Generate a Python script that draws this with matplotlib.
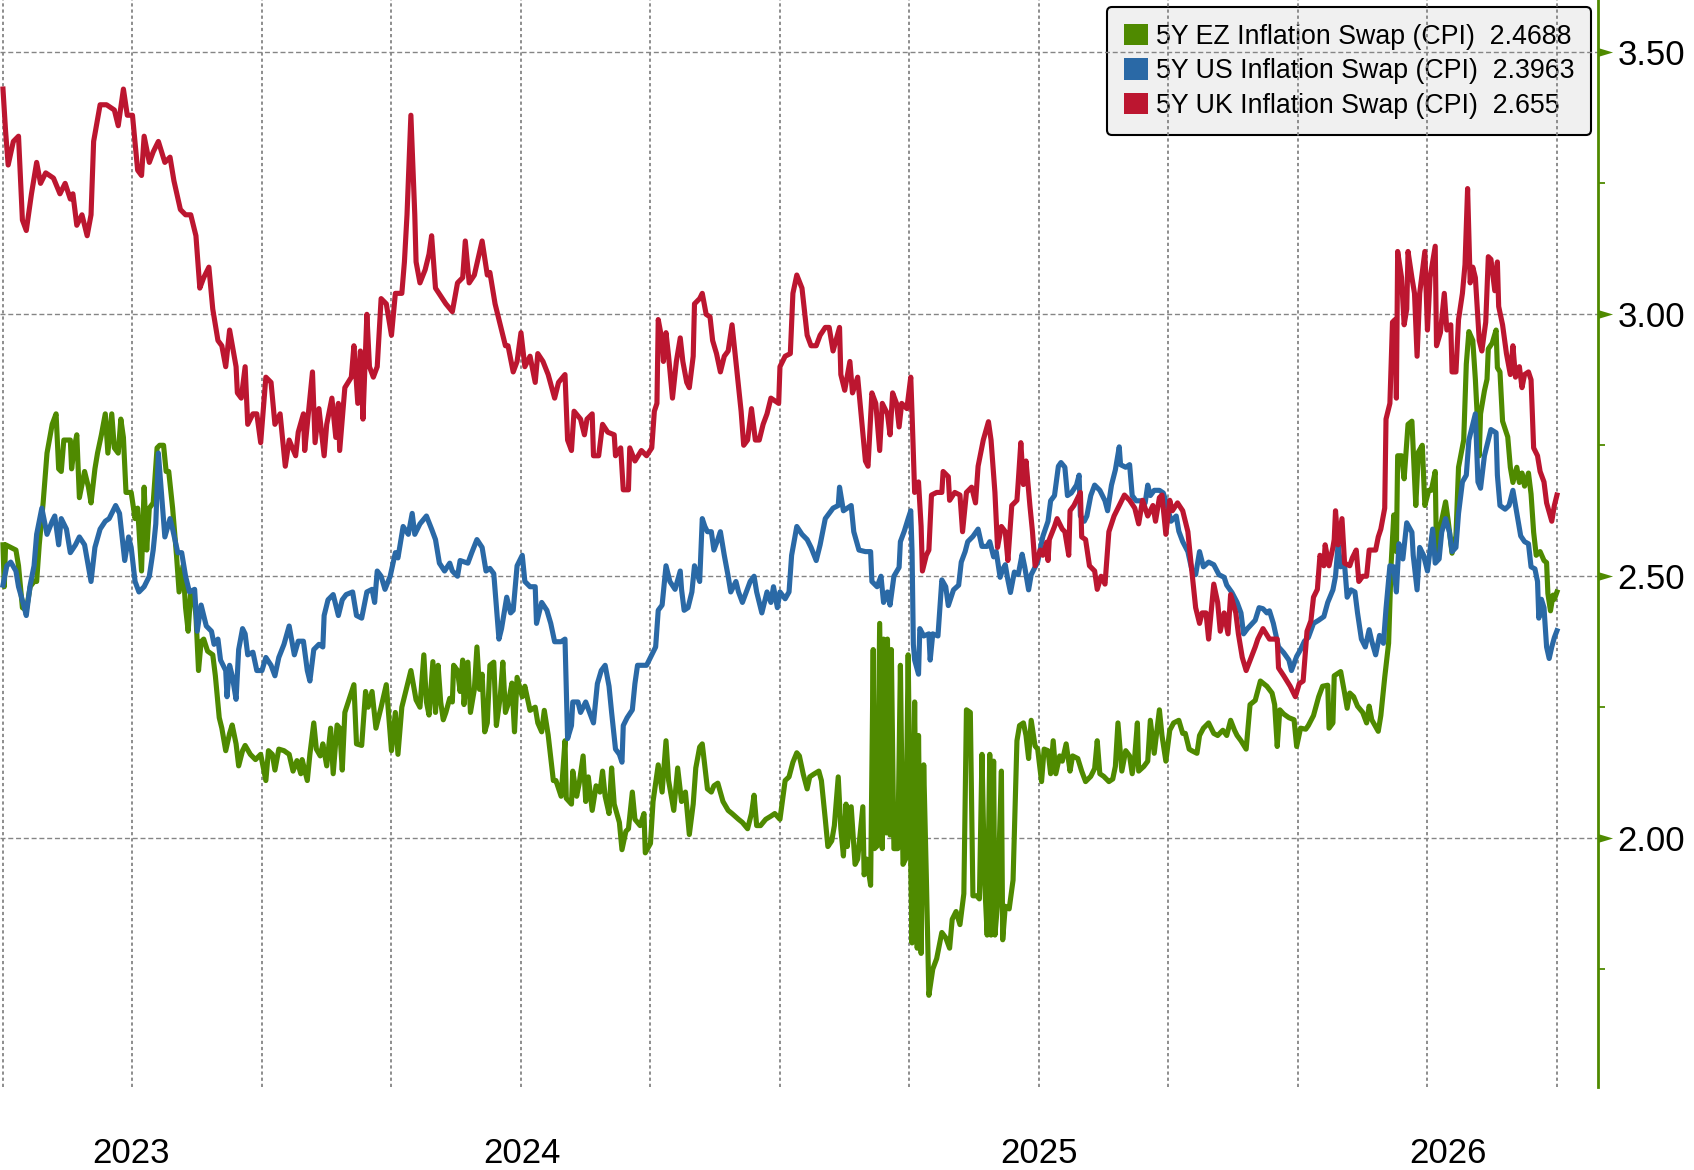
import numpy as np
import matplotlib
matplotlib.use("Agg")
import matplotlib.pyplot as plt
from matplotlib.patches import Patch
from matplotlib.path import Path

plt.rcParams['font.family'] = ['Liberation Sans', 'DejaVu Sans']

# ---------------- data (t in quarter units from first grid line, value in %) ----------------
ez_points = [
(0.00,2.56),(0.01,2.48),(0.02,2.56),(0.06,2.555),(0.10,2.55),(0.12,2.52),(0.15,2.44),(0.18,2.435),(0.21,2.48),(0.24,2.49),
(0.26,2.49),(0.28,2.56),(0.31,2.64),(0.34,2.735),(0.38,2.79),(0.41,2.81),(0.43,2.705),(0.45,2.70),(0.47,2.76),(0.49,2.76),
(0.52,2.76),(0.53,2.705),(0.55,2.745),(0.57,2.77),(0.59,2.65),(0.63,2.70),(0.66,2.67),(0.68,2.64),(0.71,2.705),(0.73,2.735),
(0.76,2.77),(0.79,2.81),(0.81,2.735),(0.84,2.81),(0.86,2.745),(0.89,2.735),(0.91,2.80),(0.93,2.765),(0.95,2.66),(0.99,2.66),
(1.02,2.61),(1.04,2.63),(1.07,2.51),(1.09,2.67),(1.11,2.55),(1.13,2.63),(1.16,2.64),(1.19,2.745),(1.21,2.75),(1.24,2.75),
(1.26,2.70),(1.28,2.70),(1.31,2.63),(1.34,2.54),(1.36,2.47),(1.39,2.52),(1.41,2.44),(1.43,2.395),(1.45,2.47),(1.47,2.47),
(1.49,2.425),(1.51,2.32),(1.53,2.375),(1.55,2.38),(1.58,2.357),(1.62,2.35),(1.64,2.31),(1.67,2.23),(1.69,2.21),(1.72,2.167),
(1.75,2.20),(1.77,2.216),(1.80,2.18),(1.82,2.138),(1.85,2.167),(1.87,2.177),(1.91,2.16),(1.95,2.15),(1.99,2.16),(2.03,2.11),
(2.05,2.167),(2.08,2.16),(2.10,2.13),(2.13,2.17),(2.17,2.167),(2.21,2.16),(2.24,2.128),(2.27,2.148),(2.30,2.123),(2.31,2.15),
(2.35,2.11),(2.37,2.16),(2.40,2.22),(2.42,2.17),(2.45,2.157),(2.47,2.18),(2.50,2.138),(2.53,2.21),(2.55,2.123),(2.58,2.216),
(2.60,2.21),(2.62,2.13),(2.64,2.24),(2.68,2.27),(2.71,2.293),(2.73,2.18),(2.77,2.177),(2.80,2.28),(2.82,2.25),(2.85,2.28),
(2.88,2.21),(2.92,2.25),(2.96,2.293),(3.00,2.167),(3.03,2.24),(3.05,2.16),(3.08,2.25),(3.12,2.29),(3.15,2.32),(3.19,2.264),
(3.22,2.25),(3.25,2.35),(3.27,2.26),(3.29,2.235),(3.32,2.337),(3.34,2.24),(3.36,2.33),(3.38,2.26),(3.40,2.226),(3.42,2.24),
(3.45,2.267),(3.47,2.26),(3.48,2.33),(3.51,2.32),(3.53,2.28),(3.55,2.34),(3.56,2.255),(3.59,2.336),(3.61,2.24),(3.64,2.284),
(3.66,2.365),(3.68,2.284),(3.70,2.313),(3.72,2.203),(3.74,2.22),(3.76,2.33),(3.79,2.336),(3.81,2.215),(3.84,2.27),(3.86,2.336),
(3.88,2.24),(3.90,2.255),(3.93,2.296),(3.95,2.203),(3.97,2.307),(4.01,2.27),(4.03,2.29),(4.07,2.244),(4.11,2.25),(4.13,2.22),
(4.16,2.203),(4.18,2.244),(4.21,2.197),(4.25,2.11),(4.27,2.11),(4.31,2.08),(4.34,2.186),(4.35,2.076),(4.39,2.065),(4.40,2.128),
(4.43,2.08),(4.45,2.105),(4.48,2.157),(4.50,2.07),(4.52,2.117),(4.55,2.053),(4.58,2.10),(4.61,2.088),(4.63,2.128),(4.65,2.08),
(4.68,2.047),(4.70,2.134),(4.72,2.065),(4.76,2.03),(4.78,1.978),(4.81,2.013),(4.83,2.018),(4.86,2.088),(4.88,2.036),(4.92,2.024),
(4.95,2.047),(4.96,1.972),(5.00,1.99),(5.02,2.07),(5.06,2.14),(5.09,2.088),(5.12,2.186),(5.14,2.11),(5.18,2.053),(5.21,2.134),
(5.24,2.07),(5.27,2.088),(5.30,2.007),(5.33,2.065),(5.35,2.134),(5.38,2.174),(5.40,2.18),(5.44,2.094),(5.47,2.088),(5.49,2.10),
(5.52,2.105),(5.56,2.07),(5.60,2.053),(5.63,2.047),(5.68,2.036),(5.71,2.03),(5.75,2.018),(5.78,2.047),(5.80,2.082),(5.82,2.024),
(5.85,2.024),(5.89,2.036),(5.93,2.042),(5.96,2.047),(6.00,2.036),(6.04,2.11),(6.07,2.117),(6.10,2.145),(6.13,2.163),(6.15,2.157),
(6.18,2.122),(6.21,2.094),(6.23,2.117),(6.26,2.122),(6.30,2.128),(6.32,2.11),(6.35,2.036),(6.37,1.984),(6.40,1.995),(6.42,2.024),
(6.45,2.117),(6.47,2.018),(6.49,1.966),(6.51,2.065),(6.52,1.984),(6.55,2.06),(6.58,1.95),(6.60,1.96),(6.64,2.06),(6.65,1.93),
(6.67,1.96),(6.70,1.91),(6.72,2.36),(6.73,1.98),(6.75,1.985),(6.77,2.41),(6.79,1.98),(6.80,2.38),(6.82,2.01),(6.83,2.38),
(6.85,2.006),(6.86,2.36),(6.88,1.98),(6.91,1.98),(6.93,2.33),(6.95,1.95),(6.97,1.96),(6.99,2.35),(7.01,1.95),(7.02,1.80),
(7.04,2.26),(7.06,1.79),(7.07,2.196),(7.09,1.78),(7.11,2.14),(7.13,1.93),(7.15,1.70),(7.18,1.75),(7.21,1.77),(7.25,1.82),
(7.28,1.81),(7.31,1.79),(7.33,1.845),(7.36,1.86),(7.39,1.835),(7.42,1.894),(7.44,2.245),(7.47,2.24),(7.49,1.89),(7.52,1.89),
(7.54,1.884),(7.56,2.16),(7.58,1.92),(7.60,1.815),(7.62,2.16),(7.63,1.815),(7.65,2.147),(7.66,1.815),(7.68,1.874),(7.71,2.128),
(7.72,1.806),(7.74,1.87),(7.77,1.865),(7.80,1.92),(7.83,2.186),(7.85,2.215),(7.88,2.22),(7.90,2.196),(7.92,2.152),(7.94,2.225),
(7.97,2.176),(7.99,2.17),(8.02,2.108),(8.04,2.17),(8.07,2.167),(8.09,2.123),(8.11,2.186),(8.13,2.123),(8.16,2.157),(8.18,2.147),
(8.21,2.18),(8.24,2.128),(8.26,2.157),(8.30,2.152),(8.33,2.128),(8.36,2.108),(8.40,2.118),(8.43,2.133),(8.45,2.186),(8.47,2.123),
(8.50,2.118),(8.54,2.108),(8.57,2.113),(8.59,2.137),(8.61,2.22),(8.64,2.128),(8.67,2.167),(8.70,2.157),(8.72,2.123),(8.74,2.157),
(8.76,2.22),(8.77,2.128),(8.81,2.137),(8.84,2.147),(8.86,2.225),(8.89,2.162),(8.93,2.245),(8.95,2.196),(8.98,2.147),(9.01,2.206),
(9.04,2.22),(9.08,2.225),(9.11,2.20),(9.13,2.20),(9.16,2.17),(9.18,2.167),(9.22,2.162),(9.24,2.196),(9.27,2.21),(9.31,2.22),
(9.35,2.20),(9.38,2.196),(9.42,2.206),(9.45,2.196),(9.48,2.225),(9.51,2.206),(9.53,2.196),(9.56,2.186),(9.60,2.17),(9.63,2.255),
(9.67,2.263),(9.71,2.30),(9.76,2.29),(9.80,2.277),(9.82,2.255),(9.84,2.175),(9.86,2.245),(9.89,2.237),(9.93,2.23),(9.97,2.226),
(9.99,2.175),(10.02,2.21),(10.06,2.208),(10.08,2.215),(10.12,2.234),(10.16,2.27),(10.19,2.29),(10.23,2.292),(10.24,2.21),(10.27,2.22),
(10.28,2.31),(10.33,2.318),(10.36,2.277),(10.38,2.248),(10.40,2.277),(10.43,2.27),(10.46,2.252),(10.50,2.24),(10.53,2.22),(10.55,2.252),
(10.57,2.226),(10.62,2.204),(10.64,2.234),(10.67,2.307),(10.70,2.372),(10.72,2.525),(10.74,2.617),(10.76,2.547),(10.77,2.73),(10.80,2.73),
(10.82,2.686),(10.85,2.79),(10.88,2.796),(10.91,2.635),(10.93,2.737),(10.96,2.75),(10.98,2.635),(11.01,2.664),(11.03,2.664),(11.06,2.70),
(11.07,2.54),(11.10,2.595),(11.14,2.642),(11.16,2.606),(11.19,2.544),(11.22,2.577),(11.24,2.708),(11.28,2.76),(11.30,2.905),(11.32,2.967),
(11.35,2.95),(11.37,2.876),(11.40,2.73),(11.41,2.81),(11.44,2.854),(11.46,2.876),(11.47,2.934),(11.50,2.945),(11.53,2.97),(11.54,2.898),
(11.56,2.89),(11.58,2.796),(11.62,2.766),(11.64,2.708),(11.66,2.679),(11.69,2.708),(11.71,2.679),(11.73,2.697),(11.75,2.672),(11.78,2.697),
(11.80,2.657),(11.82,2.584),(11.84,2.54),(11.87,2.547),(11.90,2.53),(11.92,2.526),(11.93,2.467),(11.95,2.434),(11.97,2.464),(11.98,2.456),
(12.00,2.47)]

us_points = [
(0.00,2.483),(0.03,2.52),(0.06,2.527),(0.10,2.51),(0.12,2.48),(0.16,2.445),(0.18,2.425),(0.21,2.483),(0.24,2.52),(0.26,2.58),
(0.30,2.63),(0.34,2.58),(0.38,2.605),(0.40,2.615),(0.43,2.56),(0.45,2.61),(0.49,2.59),(0.52,2.545),(0.56,2.56),(0.59,2.575),
(0.63,2.56),(0.68,2.49),(0.71,2.555),(0.75,2.59),(0.79,2.605),(0.82,2.61),(0.87,2.635),(0.90,2.62),(0.94,2.53),(0.97,2.575),
(0.99,2.555),(1.02,2.49),(1.05,2.47),(1.09,2.48),(1.13,2.50),(1.16,2.55),(1.18,2.60),(1.20,2.735),(1.23,2.64),(1.25,2.575),
(1.29,2.61),(1.31,2.59),(1.35,2.545),(1.38,2.545),(1.41,2.50),(1.44,2.47),(1.48,2.475),(1.50,2.395),(1.53,2.445),(1.55,2.425),
(1.57,2.405),(1.61,2.395),(1.63,2.37),(1.66,2.38),(1.68,2.34),(1.72,2.32),(1.73,2.27),(1.75,2.33),(1.77,2.31),(1.80,2.265),
(1.82,2.36),(1.85,2.40),(1.87,2.39),(1.89,2.35),(1.93,2.355),(1.96,2.32),(2.00,2.32),(2.03,2.345),(2.07,2.33),(2.10,2.31),
(2.13,2.345),(2.17,2.37),(2.21,2.405),(2.25,2.35),(2.28,2.376),(2.32,2.376),(2.35,2.32),(2.37,2.30),(2.40,2.36),(2.44,2.37),
(2.47,2.365),(2.48,2.425),(2.51,2.455),(2.55,2.465),(2.59,2.425),(2.62,2.455),(2.65,2.465),(2.70,2.47),(2.73,2.425),(2.77,2.42),
(2.81,2.47),(2.85,2.475),(2.87,2.45),(2.89,2.51),(2.92,2.50),(2.95,2.475),(2.99,2.50),(3.03,2.545),(3.05,2.535),(3.09,2.595),
(3.13,2.58),(3.16,2.62),(3.18,2.58),(3.22,2.60),(3.27,2.615),(3.31,2.59),(3.34,2.57),(3.37,2.525),(3.41,2.51),(3.45,2.525),
(3.47,2.51),(3.51,2.50),(3.53,2.53),(3.59,2.525),(3.62,2.545),(3.66,2.57),(3.70,2.555),(3.73,2.51),(3.76,2.515),(3.79,2.505),
(3.83,2.38),(3.85,2.40),(3.89,2.46),(3.92,2.43),(3.94,2.435),(3.97,2.52),(4.01,2.54),(4.03,2.49),(4.07,2.48),(4.11,2.48),
(4.12,2.41),(4.16,2.45),(4.20,2.435),(4.23,2.41),(4.26,2.375),(4.31,2.375),(4.34,2.38),(4.36,2.19),(4.39,2.215),(4.40,2.26),
(4.44,2.26),(4.46,2.24),(4.50,2.26),(4.53,2.24),(4.56,2.22),(4.59,2.295),(4.62,2.32),(4.65,2.33),(4.68,2.29),(4.70,2.24),
(4.73,2.17),(4.76,2.16),(4.78,2.145),(4.79,2.215),(4.82,2.23),(4.86,2.245),(4.88,2.295),(4.90,2.33),(4.93,2.33),(4.97,2.33),
(5.01,2.35),(5.04,2.365),(5.06,2.435),(5.09,2.445),(5.12,2.52),(5.15,2.49),(5.19,2.475),(5.23,2.51),(5.24,2.475),(5.26,2.435),
(5.29,2.44),(5.32,2.47),(5.34,2.52),(5.38,2.49),(5.40,2.61),(5.42,2.595),(5.44,2.585),(5.47,2.585),(5.49,2.55),(5.52,2.57),
(5.54,2.585),(5.57,2.54),(5.60,2.50),(5.62,2.47),(5.66,2.49),(5.68,2.47),(5.71,2.45),(5.74,2.47),(5.77,2.49),(5.80,2.50),
(5.82,2.47),(5.86,2.43),(5.90,2.47),(5.93,2.45),(5.95,2.48),(5.98,2.44),(6.00,2.47),(6.04,2.457),(6.07,2.47),(6.09,2.54),
(6.13,2.595),(6.17,2.58),(6.21,2.57),(6.24,2.555),(6.28,2.53),(6.31,2.56),(6.35,2.61),(6.38,2.62),(6.41,2.63),(6.45,2.635),
(6.46,2.67),(6.49,2.625),(6.52,2.63),(6.55,2.635),(6.57,2.585),(6.61,2.55),(6.66,2.547),(6.70,2.547),(6.71,2.49),(6.75,2.48),
(6.78,2.50),(6.80,2.45),(6.83,2.47),(6.85,2.445),(6.88,2.50),(6.92,2.517),(6.93,2.566),(6.96,2.586),(6.99,2.61),(7.01,2.625),
(7.02,2.547),(7.03,2.37),(7.04,2.34),(7.07,2.313),(7.08,2.40),(7.11,2.386),(7.15,2.39),(7.16,2.34),(7.18,2.39),(7.22,2.386),
(7.25,2.493),(7.28,2.48),(7.30,2.444),(7.34,2.474),(7.38,2.483),(7.40,2.527),(7.43,2.547),(7.45,2.566),(7.49,2.576),(7.53,2.59),
(7.56,2.557),(7.60,2.557),(7.62,2.566),(7.65,2.537),(7.67,2.547),(7.70,2.498),(7.72,2.513),(7.74,2.522),(7.76,2.493),(7.78,2.469),
(7.81,2.508),(7.84,2.503),(7.87,2.542),(7.89,2.518),(7.92,2.474),(7.94,2.503),(7.99,2.527),(8.03,2.576),(8.07,2.605),(8.09,2.644),
(8.12,2.654),(8.15,2.71),(8.17,2.717),(8.20,2.708),(8.22,2.654),(8.25,2.659),(8.29,2.674),(8.31,2.693),(8.32,2.615),(8.35,2.605),
(8.37,2.615),(8.40,2.654),(8.43,2.674),(8.47,2.664),(8.51,2.644),(8.53,2.625),(8.56,2.674),(8.59,2.703),(8.62,2.747),(8.63,2.713),
(8.67,2.708),(8.70,2.713),(8.72,2.654),(8.75,2.644),(8.79,2.644),(8.82,2.64),(8.84,2.674),(8.86,2.654),(8.89,2.664),(8.93,2.664),
(8.96,2.659),(8.99,2.635),(9.02,2.605),(9.06,2.615),(9.08,2.586),(9.11,2.566),(9.15,2.547),(9.18,2.513),(9.21,2.503),(9.24,2.547),
(9.27,2.518),(9.31,2.527),(9.35,2.522),(9.39,2.503),(9.43,2.498),(9.45,2.483),(9.49,2.469),(9.53,2.45),(9.56,2.43),(9.58,2.39),
(9.61,2.40),(9.67,2.416),(9.70,2.44),(9.73,2.438),(9.76,2.43),(9.78,2.434),(9.81,2.41),(9.85,2.365),(9.89,2.354),(9.93,2.34),
(9.95,2.32),(9.99,2.347),(10.02,2.36),(10.05,2.376),(10.08,2.383),(10.12,2.41),(10.16,2.416),(10.20,2.423),(10.23,2.45),(10.27,2.474),
(10.29,2.50),(10.31,2.56),(10.33,2.518),(10.36,2.522),(10.38,2.46),(10.41,2.474),(10.44,2.47),(10.46,2.43),(10.49,2.38),(10.52,2.365),
(10.55,2.398),(10.57,2.376),(10.60,2.35),(10.63,2.387),(10.66,2.372),(10.68,2.438),(10.71,2.52),(10.74,2.518),(10.76,2.47),(10.78,2.562),
(10.81,2.533),(10.84,2.602),(10.88,2.584),(10.89,2.54),(10.92,2.474),(10.94,2.555),(10.97,2.54),(11.00,2.51),(11.04,2.59),(11.06,2.525),
(11.09,2.533),(11.11,2.584),(11.14,2.61),(11.17,2.584),(11.19,2.547),(11.22,2.555),(11.24,2.62),(11.27,2.68),(11.30,2.693),(11.32,2.76),
(11.35,2.79),(11.37,2.81),(11.39,2.68),(11.41,2.668),(11.44,2.73),(11.47,2.76),(11.49,2.78),(11.53,2.774),(11.54,2.693),(11.56,2.635),
(11.60,2.628),(11.63,2.635),(11.66,2.664),(11.69,2.62),(11.72,2.577),(11.75,2.566),(11.78,2.562),(11.80,2.518),(11.83,2.514),(11.85,2.49),
(11.86,2.42),(11.88,2.456),(11.90,2.44),(11.92,2.365),(11.94,2.343),(11.96,2.365),(11.98,2.383),(12.00,2.396)]

uk_points = [
(0.00,3.43),(0.02,3.35),(0.04,3.285),(0.08,3.33),(0.12,3.34),(0.15,3.18),(0.18,3.16),(0.22,3.23),(0.26,3.29),(0.29,3.25),
(0.33,3.27),(0.39,3.26),(0.44,3.23),(0.48,3.25),(0.52,3.22),(0.54,3.23),(0.57,3.17),(0.61,3.19),(0.65,3.15),(0.68,3.19),
(0.70,3.33),(0.75,3.40),(0.80,3.40),(0.86,3.39),(0.89,3.36),(0.93,3.43),(0.96,3.38),(1.00,3.38),(1.04,3.275),(1.07,3.265),
(1.09,3.34),(1.13,3.29),(1.16,3.31),(1.20,3.33),(1.25,3.29),(1.29,3.30),(1.32,3.255),(1.37,3.20),(1.41,3.19),(1.45,3.19),
(1.49,3.15),(1.52,3.05),(1.55,3.07),(1.59,3.09),(1.62,3.01),(1.66,2.95),(1.69,2.94),(1.72,2.90),(1.75,2.97),(1.80,2.90),
(1.81,2.85),(1.84,2.84),(1.87,2.90),(1.89,2.79),(1.93,2.81),(1.96,2.81),(1.99,2.755),(2.03,2.88),(2.07,2.87),(2.10,2.79),
(2.14,2.81),(2.18,2.71),(2.21,2.76),(2.26,2.73),(2.28,2.775),(2.32,2.81),(2.33,2.74),(2.39,2.89),(2.41,2.755),(2.44,2.82),
(2.48,2.73),(2.50,2.79),(2.54,2.84),(2.57,2.765),(2.59,2.83),(2.60,2.74),(2.64,2.86),(2.69,2.88),(2.71,2.94),(2.74,2.83),
(2.76,2.93),(2.78,2.80),(2.81,3.00),(2.83,2.90),(2.86,2.88),(2.89,2.90),(2.92,3.03),(2.96,3.02),(3.00,2.96),(3.03,3.04),
(3.08,3.04),(3.10,3.10),(3.12,3.19),(3.15,3.38),(3.18,3.19),(3.19,3.10),(3.22,3.06),(3.26,3.085),(3.29,3.115),(3.31,3.15),
(3.34,3.05),(3.38,3.035),(3.42,3.02),(3.47,3.005),(3.51,3.06),(3.55,3.07),(3.57,3.14),(3.60,3.06),(3.64,3.075),(3.70,3.14),
(3.74,3.075),(3.76,3.08),(3.80,3.02),(3.84,2.98),(3.88,2.94),(3.90,2.94),(3.94,2.89),(3.97,2.91),(4.00,2.965),(4.03,2.90),
(4.07,2.92),(4.11,2.87),(4.13,2.925),(4.17,2.91),(4.21,2.885),(4.26,2.84),(4.29,2.87),(4.34,2.885),(4.36,2.76),(4.39,2.74),
(4.41,2.815),(4.46,2.80),(4.49,2.77),(4.51,2.80),(4.55,2.81),(4.56,2.73),(4.60,2.73),(4.63,2.79),(4.67,2.775),(4.72,2.77),
(4.73,2.73),(4.77,2.745),(4.79,2.665),(4.83,2.665),(4.84,2.745),(4.88,2.72),(4.93,2.74),(4.97,2.73),(5.01,2.745),(5.03,2.815),
(5.05,2.83),(5.06,2.99),(5.09,2.95),(5.10,2.91),(5.12,2.965),(5.14,2.92),(5.17,2.84),(5.20,2.91),(5.23,2.955),(5.25,2.91),
(5.28,2.87),(5.30,2.86),(5.33,2.92),(5.34,3.02),(5.38,3.03),(5.40,3.04),(5.43,3.00),(5.46,2.995),(5.48,2.95),(5.51,2.925),
(5.54,2.89),(5.57,2.92),(5.60,2.93),(5.63,2.98),(5.66,2.91),(5.70,2.815),(5.72,2.75),(5.75,2.76),(5.78,2.82),(5.81,2.76),
(5.84,2.76),(5.87,2.79),(5.90,2.81),(5.93,2.84),(5.99,2.83),(6.00,2.90),(6.04,2.92),(6.08,2.925),(6.10,3.04),(6.13,3.075),
(6.17,3.05),(6.21,2.96),(6.24,2.94),(6.28,2.94),(6.31,2.96),(6.35,2.975),(6.38,2.975),(6.41,2.93),(6.46,2.975),(6.47,2.885),
(6.50,2.855),(6.54,2.91),(6.56,2.85),(6.60,2.88),(6.63,2.80),(6.66,2.72),(6.68,2.71),(6.71,2.85),(6.74,2.83),(6.77,2.74),
(6.79,2.83),(6.83,2.81),(6.85,2.77),(6.87,2.85),(6.90,2.83),(6.92,2.785),(6.94,2.83),(6.98,2.82),(7.01,2.88),(7.02,2.81),
(7.04,2.66),(7.07,2.68),(7.09,2.595),(7.10,2.51),(7.13,2.54),(7.15,2.55),(7.17,2.655),(7.21,2.66),(7.25,2.66),(7.26,2.70),
(7.30,2.69),(7.31,2.645),(7.35,2.66),(7.39,2.655),(7.41,2.585),(7.44,2.66),(7.48,2.67),(7.51,2.64),(7.53,2.71),(7.57,2.76),
(7.61,2.795),(7.63,2.76),(7.66,2.66),(7.68,2.555),(7.71,2.595),(7.74,2.585),(7.76,2.53),(7.79,2.635),(7.83,2.645),(7.84,2.68),
(7.86,2.755),(7.88,2.675),(7.90,2.72),(7.93,2.635),(7.95,2.585),(7.97,2.52),(8.01,2.55),(8.03,2.54),(8.06,2.565),(8.07,2.53),
(8.08,2.57),(8.12,2.595),(8.14,2.61),(8.18,2.59),(8.20,2.585),(8.23,2.54),(8.24,2.625),(8.27,2.635),(8.32,2.66),(8.33,2.575),
(8.36,2.57),(8.39,2.52),(8.43,2.51),(8.45,2.475),(8.48,2.50),(8.51,2.485),(8.53,2.55),(8.54,2.585),(8.58,2.615),(8.62,2.635),
(8.66,2.655),(8.70,2.645),(8.74,2.63),(8.77,2.60),(8.80,2.645),(8.84,2.615),(8.88,2.635),(8.90,2.605),(8.93,2.65),(8.95,2.655),
(8.98,2.58),(9.01,2.645),(9.03,2.625),(9.07,2.64),(9.11,2.625),(9.15,2.585),(9.17,2.535),(9.21,2.44),(9.24,2.41),(9.26,2.43),
(9.29,2.43),(9.31,2.38),(9.35,2.485),(9.38,2.45),(9.40,2.395),(9.43,2.43),(9.46,2.39),(9.48,2.465),(9.52,2.43),(9.54,2.39),
(9.57,2.345),(9.60,2.32),(9.67,2.365),(9.69,2.38),(9.73,2.40),(9.78,2.38),(9.84,2.38),(9.85,2.325),(9.89,2.31),(9.94,2.29),
(9.98,2.27),(10.01,2.295),(10.04,2.30),(10.07,2.395),(10.10,2.415),(10.12,2.46),(10.15,2.475),(10.17,2.54),(10.20,2.52),(10.21,2.56),
(10.24,2.52),(10.27,2.555),(10.28,2.57),(10.29,2.625),(10.31,2.56),(10.34,2.61),(10.36,2.525),(10.40,2.52),(10.42,2.535),(10.45,2.55),
(10.47,2.49),(10.50,2.50),(10.53,2.50),(10.55,2.55),(10.60,2.55),(10.62,2.575),(10.64,2.59),(10.67,2.63),(10.68,2.80),(10.71,2.83),
(10.73,2.985),(10.75,2.99),(10.76,2.84),(10.77,3.12),(10.80,3.07),(10.82,2.98),(10.84,3.01),(10.85,3.12),(10.88,3.07),(10.90,3.04),
(10.92,2.92),(10.94,3.04),(10.98,3.12),(11.00,2.97),(11.02,3.07),(11.06,3.13),(11.07,2.94),(11.10,2.965),(11.13,3.04),(11.15,2.97),
(11.18,2.98),(11.19,2.89),(11.22,2.89),(11.24,2.99),(11.27,3.04),(11.29,3.095),(11.31,3.24),(11.33,3.06),(11.35,3.09),(11.37,3.07),
(11.40,2.95),(11.42,2.93),(11.45,2.985),(11.47,3.11),(11.49,3.105),(11.52,3.045),(11.54,3.10),(11.55,3.015),(11.58,2.98),(11.61,2.925),
(11.64,2.885),(11.66,2.94),(11.68,2.88),(11.71,2.90),(11.73,2.86),(11.75,2.885),(11.78,2.89),(11.80,2.875),(11.82,2.745),(11.85,2.73),
(11.87,2.70),(11.90,2.68),(11.92,2.64),(11.96,2.605),(11.98,2.635),(12.00,2.655)]

series_names = ["5Y EZ Inflation Swap (CPI)", "5Y US Inflation Swap (CPI)", "5Y UK Inflation Swap (CPI)"]
last_values = ["2.4688", "2.3963", "2.655"]
series_colors = ["#4f8a00", "#2a69a6", "#bc1630"]

year_labels = ["2023", "2024", "2025", "2026"]
year_pos = [0.99, 4.01, 8.0, 11.16]
grid_t = list(range(13))
y_major = [2.0, 2.5, 3.0, 3.5]
y_minor = [1.75, 2.25, 2.75, 3.25]

# ---------------- figure ----------------
W, H = 1694, 1170
fig = plt.figure(figsize=(W / 100, H / 100), dpi=100)
ax_left, ax_right, ax_top, ax_bot = 0, 1598, 0, 1087
ax = fig.add_axes([ax_left / W, 1 - ax_bot / H, (ax_right - ax_left) / W, (ax_bot - ax_top) / H])
ax.set_xlim(-0.023, 12.317)
ax.set_ylim(1.525, 3.600)

grid_col = "#858585"
for g in grid_t:
    ax.axvline(g, color=grid_col, lw=1.3, ls=(0, (1.8, 1.6)), zorder=1)
for yv in y_major:
    ax.axhline(yv, color=grid_col, lw=1.0, ls=(0, (3.6, 2.0)), zorder=1)

for pts, col in zip([ez_points, us_points, uk_points], series_colors):
    t = [p[0] for p in pts]
    v = [p[1] for p in pts]
    ax.plot(t, v, color=col, lw=3.7, zorder=3, solid_joinstyle='round')

for s in ["left", "top", "bottom"]:
    ax.spines[s].set_visible(False)
green = series_colors[0]
ax.spines["right"].set_color(green)
ax.spines["right"].set_linewidth(2.0)

ax.yaxis.tick_right()
ax.set_yticks(y_major)
ax.set_yticklabels([f"{v:.2f}" for v in y_major])
ax.set_yticks(y_minor, minor=True)
ax.tick_params(axis="y", which="major", length=0, pad=14, labelsize=25, labelcolor="black")
ax.tick_params(axis="y", which="minor", length=5, width=1.3, color=green, direction="out")

tri = Path([(0, -0.3), (1.0, 0), (0, 0.3), (0, -0.3)],
           [Path.MOVETO, Path.LINETO, Path.LINETO, Path.CLOSEPOLY])
ax.plot([1.0] * len(y_major), y_major, transform=ax.get_yaxis_transform(),
        marker=tri, markersize=21, color=green, markeredgewidth=0, linestyle="none",
        clip_on=False, zorder=5)

ax.set_xticks(year_pos)
ax.set_xticklabels(year_labels)
ax.tick_params(axis="x", which="both", length=0, pad=36, labelsize=25)

handles = [Patch(facecolor=c, edgecolor="none") for c in series_colors]
labels = [f"{n}  {v}" for n, v in zip(series_names, last_values)]
leg = ax.legend(handles, labels, loc="upper left",
                bbox_to_anchor=(1107 / 1598, 1 - 7 / 1087), borderaxespad=0,
                fontsize=19.3, frameon=True, fancybox=True, framealpha=1,
                facecolor="#f0f0f0", edgecolor="black",
                handlelength=0.9, handleheight=0.85, handletextpad=0.3,
                labelspacing=0.32, borderpad=0.62)
leg.get_frame().set_linewidth(1.5)
leg.set_zorder(0.5)  # grid lines show through the legend box as in the reference

fig.savefig("out.png", dpi=100, facecolor="white")
